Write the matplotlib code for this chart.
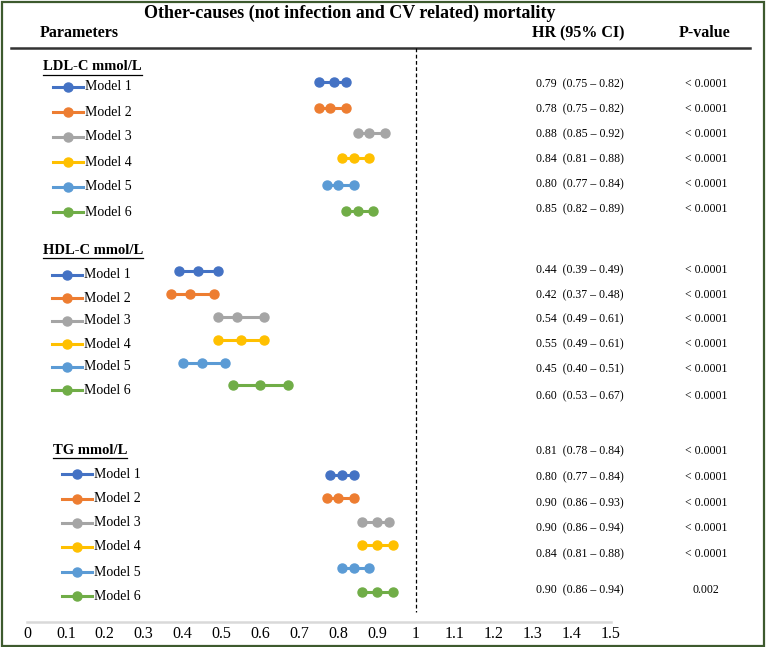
import matplotlib.pyplot as plt
from matplotlib.patches import Rectangle

# data
sections = ["LDL-C mmol/L", "HDL-C mmol/L", "TG mmol/L"]
models = ["Model 1", "Model 2", "Model 3", "Model 4", "Model 5", "Model 6"]
colors = ["#4472C4", "#ED7D31", "#A5A5A5", "#FFC000", "#5B9BD5", "#70AD47"]

ldl_hr = [0.79, 0.78, 0.88, 0.84, 0.80, 0.85]
ldl_lo = [0.75, 0.75, 0.85, 0.81, 0.77, 0.82]
ldl_hi = [0.82, 0.82, 0.92, 0.88, 0.84, 0.89]
ldl_p = ["< 0.0001"] * 6

hdl_hr = [0.44, 0.42, 0.54, 0.55, 0.45, 0.60]
hdl_lo = [0.39, 0.37, 0.49, 0.49, 0.40, 0.53]
hdl_hi = [0.49, 0.48, 0.61, 0.61, 0.51, 0.67]
hdl_p = ["< 0.0001"] * 6

tg_hr = [0.81, 0.80, 0.90, 0.90, 0.84, 0.90]
tg_lo = [0.78, 0.77, 0.86, 0.86, 0.81, 0.86]
tg_hi = [0.84, 0.84, 0.93, 0.94, 0.88, 0.94]
tg_p = ["< 0.0001"] * 5 + ["0.002"]

xticks = [0, 0.1, 0.2, 0.3, 0.4, 0.5, 0.6, 0.7, 0.8, 0.9, 1, 1.1, 1.2, 1.3, 1.4, 1.5]

# layout (pixel rows, y grows downward)
header_y = [67, 250, 450]
header_x = [43, 43, 53]
dot_y = [[82, 108, 133, 158, 185, 211],
         [271, 294, 317, 340, 363, 385],
         [475, 498, 522, 545, 568, 592]]
label_y = [[87, 112, 137, 162, 187, 212],
           [275, 298, 321, 344, 367, 390],
           [474, 499, 523, 547, 572, 596]]
text_y = [[84, 109, 134, 159, 184, 209],
          [270, 295, 319, 344, 369, 396],
          [451, 477, 503, 528, 554, 590]]
leg_x = [53, 52, 62]

plt.rcParams['font.family'] = ['Liberation Serif', 'DejaVu Serif']

W, H = 766, 647
fig = plt.figure(figsize=(W / 100, H / 100), dpi=100)
ax = fig.add_axes([0, 0, 1, 1])
x0, scale = 27, 389.0  # pixel of value 0, pixels per unit
ax.set_xlim(-x0 / scale, (W - x0) / scale)
ax.set_ylim(H, 0)
ax.axis('off')


def px(p):
    return (p - x0) / scale


# border
ax.add_patch(Rectangle((px(1.5), 1.5), px(764) - px(1.5), 644, fill=False,
                       edgecolor='#3d5a2e', lw=1.6, zorder=5))

# headers
ax.text(px(350), 13, "Other-causes (not infection and CV related) mortality",
        ha='center', va='center', fontsize=13, fontweight='bold')
ax.text(px(40), 33, "Parameters", ha='left', va='center', fontsize=11.5, fontweight='bold')
ax.text(px(578), 33, "HR (95% CI)", ha='center', va='center', fontsize=11.5, fontweight='bold')
ax.text(px(705), 33, "P-value", ha='center', va='center', fontsize=11.5, fontweight='bold')
ax.plot([px(11), px(750)], [48, 48], color='#333333', lw=1.8)

# reference line and bottom axis
ax.plot([1, 1], [48, 612], color='black', lw=0.9, ls=(0, (3, 2)))
ax.plot([0, 1.5], [622, 622], color='#d9d9d9', lw=1.8)
for t in xticks:
    ax.text(t, 634, f"{t:g}", ha='center', va='center', fontsize=11.5)

groups = [(ldl_hr, ldl_lo, ldl_hi, ldl_p),
          (hdl_hr, hdl_lo, hdl_hi, hdl_p),
          (tg_hr, tg_lo, tg_hi, tg_p)]

fig.canvas.draw()
renderer = fig.canvas.get_renderer()
inv = ax.transData.inverted()

for s, (hr, lo, hi, pv) in enumerate(groups):
    t = ax.text(px(header_x[s]), header_y[s], sections[s], ha='left', va='center',
                fontsize=10.5, fontweight='bold')
    bb = t.get_window_extent(renderer)
    (ux0, _), (ux1, _) = inv.transform([(bb.x0, 0), (bb.x1, 0)])
    ax.plot([ux0, ux1], [header_y[s] + 7.5, header_y[s] + 7.5], color='black', lw=0.9)

    for i in range(6):
        c = colors[i]
        # legend-like key
        lx = leg_x[s]
        ax.plot([px(lx), px(lx + 30)], [label_y[s][i], label_y[s][i]], color=c, lw=2.2)
        ax.plot(px(lx + 15), label_y[s][i], 'o', color=c, ms=6.5, mec=c)
        ax.text(px(lx + 32), label_y[s][i], models[i], ha='left', va='center', fontsize=10)

        # CI line with three dots
        yy = dot_y[s][i]
        ax.plot([lo[i], hr[i], hi[i]], [yy, yy, yy], '-o', color=c, lw=2.2, ms=6.5, mec=c)

        ax.text(px(580), text_y[s][i], f"{hr[i]:.2f}  ({lo[i]:.2f} – {hi[i]:.2f})",
                ha='center', va='center', fontsize=8.5)
        ax.text(px(706), text_y[s][i], pv[i], ha='center', va='center', fontsize=8.5)

fig.savefig("out.png", dpi=100)
